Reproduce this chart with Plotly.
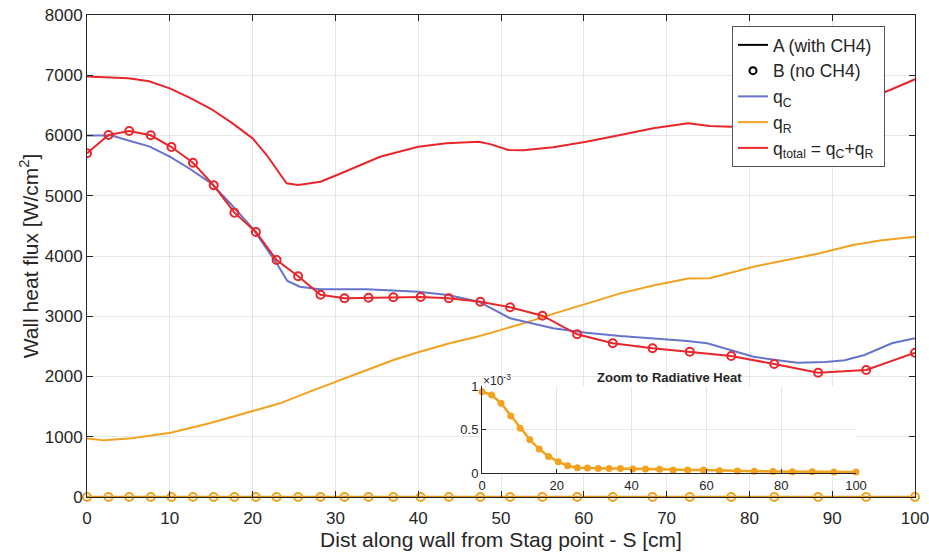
import plotly.graph_objects as go

# ---------------- data ----------------
# Case A (with CH4): continuous lines
x_qC_A = [0, 3, 4.8, 7.5, 10, 12.5, 15, 17.5, 20, 21.5, 22.9, 24.2, 25.7, 28.1, 33.8, 40, 43.6, 47.3,
          51.1, 56.3, 60.3, 64.4, 68.4, 72.5, 74.9, 77.7, 80.5, 83.2, 85.8, 89.2, 91.5, 93.9, 97.2, 100]
qC_A = [6000, 6000, 5925, 5820, 5648, 5440, 5206, 4843, 4460, 4155, 3879, 3585, 3490, 3447, 3447, 3408, 3353, 3242,
        2966, 2800, 2727, 2672, 2634, 2589, 2551, 2440, 2329, 2274, 2229, 2240, 2270, 2357, 2551, 2634]

x_qR_A = [0, 2.1, 5.4, 10.1, 14.8, 19.7, 23.3, 26.9, 30.2, 33.8, 37.0, 40.2, 43.8, 47.1, 49.7, 52.9, 56.3,
          60.3, 64.4, 68.4, 72.6, 75.2, 80.5, 88.5, 92.5, 96, 100]
qR_A = [970, 940, 974, 1068, 1223, 1416, 1555, 1748, 1914, 2108, 2274, 2412, 2551, 2661, 2761, 2890, 3040,
        3210, 3380, 3510, 3625, 3630, 3822, 4045, 4183, 4260, 4320]

x_qT_A = [0, 2.5, 5, 7.5, 10, 12.5, 15, 17.5, 20, 21.7, 24.1, 25.5, 28.2, 30.2, 35.4, 40, 43.4, 47.3, 48.7,
          50.9, 52.7, 56.3, 60.3, 64.4, 68.4, 72.6, 75.2, 77.7, 80, 85, 90, 95, 97.2, 100]
qT_A = [6980, 6960, 6950, 6900, 6783, 6620, 6440, 6210, 5953, 5676, 5206, 5178, 5233, 5344, 5648, 5814, 5870,
        5898, 5857, 5759, 5754, 5804, 5898, 6008, 6119, 6202, 6158, 6146, 6170, 6230, 6380, 6640, 6767, 6933]

# Case B (no CH4): marked points
x_B = [0, 2.6, 5.1, 7.7, 10.2, 12.8, 15.3, 17.8, 20.4, 22.9, 25.5, 28.2, 31.1, 34.0, 37.0, 40.3, 43.7, 47.5,
       51.1, 55.0, 59.2, 63.5, 68.3, 72.8, 77.8, 83.0, 88.3, 94.1, 100]
qT_B = [5705, 6008, 6075, 6003, 5809, 5548, 5173, 4719, 4398, 3934, 3663, 3358, 3298, 3308, 3315, 3320, 3298,
        3241, 3149, 3009, 2700, 2551, 2468, 2412, 2340, 2207, 2063, 2108, 2395]
qR_B = [0] * 29
# radiative heat of case B, in units of 1e-3 W/cm^2 (inset)
qR_B_e3 = [0.935, 0.897, 0.802, 0.656, 0.515, 0.382, 0.275, 0.191, 0.130, 0.084, 0.061, 0.057, 0.053, 0.053,
           0.053, 0.046, 0.046, 0.042, 0.034, 0.034, 0.034, 0.027, 0.023, 0.020, 0.018, 0.015, 0.015, 0.012, 0.012]

x_ticks = [0, 10, 20, 30, 40, 50, 60, 70, 80, 90, 100]
y_ticks = [0, 1000, 2000, 3000, 4000, 5000, 6000, 7000, 8000]
inset_x_ticks = [0, 20, 40, 60, 80, 100]
inset_y_ticks = [0, 0.5, 1]

# ---------------- styles ----------------
BLUE = "#6674CC"
ORANGE = "#F2A21E"
RED = "#E8262C"
FONT = "Liberation Sans"
INK = "#262626"

fig = go.Figure()

fig.add_trace(go.Scatter(x=x_qR_A, y=qR_A, mode="lines", line=dict(color=ORANGE, width=2), showlegend=False))
fig.add_trace(go.Scatter(x=x_qC_A, y=qC_A, mode="lines", line=dict(color=BLUE, width=2), showlegend=False))
fig.add_trace(go.Scatter(x=x_qT_A, y=qT_A, mode="lines", line=dict(color=RED, width=2), showlegend=False))
fig.add_trace(go.Scatter(x=x_B, y=qT_B, mode="lines+markers", line=dict(color=RED, width=2),
                         marker=dict(symbol="circle-open", size=8, color=RED, line=dict(width=2)),
                         showlegend=False))
fig.add_trace(go.Scatter(x=x_B, y=qR_B, mode="lines+markers", line=dict(color="#D8921F", width=2.5),
                         marker=dict(symbol="circle-open", size=8, color=ORANGE, line=dict(width=2)),
                         showlegend=False, cliponaxis=False))

# legend entries
fig.add_trace(go.Scatter(x=[None], y=[None], mode="lines", line=dict(color="black", width=2),
                         name="A (with CH4)"))
fig.add_trace(go.Scatter(x=[None], y=[None], mode="markers",
                         marker=dict(symbol="circle-open", size=7, color="black", line=dict(width=2)),
                         name="B (no CH4)"))
fig.add_trace(go.Scatter(x=[None], y=[None], mode="lines", line=dict(color=BLUE, width=2),
                         name="q<sub>C</sub>"))
fig.add_trace(go.Scatter(x=[None], y=[None], mode="lines", line=dict(color=ORANGE, width=2),
                         name="q<sub>R</sub>"))
fig.add_trace(go.Scatter(x=[None], y=[None], mode="lines", line=dict(color=RED, width=2),
                         name="q<sub>total</sub> = q<sub>C</sub>+q<sub>R</sub> "))

# inset
fig.add_trace(go.Scatter(x=x_B, y=qR_B_e3, mode="lines+markers", xaxis="x2", yaxis="y2",
                         line=dict(color=ORANGE, width=2.5),
                         marker=dict(symbol="circle", size=7, color=ORANGE),
                         showlegend=False, cliponaxis=False))

L, R, T, B = 87, 14, 15, 57
W, H = 929, 554
pw, ph = W - L - R, H - T - B

def px_x(p):
    return (p - L) / pw

def px_y(p):
    return (H - B - p) / ph

fig.update_layout(
    width=W, height=H,
    margin=dict(l=L, r=R, t=T, b=B),
    paper_bgcolor="white", plot_bgcolor="white",
    font=dict(family=FONT, size=17, color=INK),
    xaxis=dict(range=[0, 100], tickvals=x_ticks, ticktext=[str(v) for v in x_ticks],
               ticks="inside", ticklen=6, tickcolor=INK,
               showline=True, linecolor=INK, linewidth=1, mirror="ticks",
               showgrid=True, gridcolor="#E6E6E6", gridwidth=1, zeroline=False,
               tickfont=dict(size=17, color=INK), ticklabelstandoff=6, ticklabeloverflow="allow",
               title=dict(text="Dist along wall from Stag point - S [cm]", font=dict(size=21, color=INK),
                          standoff=0),
               automargin=False),
    yaxis=dict(range=[0, 8000], tickvals=y_ticks, ticks="inside", ticklen=6, tickcolor=INK,
               showline=True, linecolor=INK, linewidth=1, mirror="ticks",
               showgrid=True, gridcolor="#E6E6E6", gridwidth=1, zeroline=False,
               tickfont=dict(size=17, color=INK),
               title=dict(text="Wall heat flux [W/cm<sup>2</sup>]", font=dict(size=21, color=INK),
                          standoff=0),
               automargin=False),
    xaxis2=dict(domain=[px_x(482), px_x(856)], anchor="y2", range=[0, 100], tickvals=inset_x_ticks,
                ticks="inside", ticklen=4, tickcolor=INK,
                showline=True, linecolor=INK, linewidth=1, mirror=False,
                showgrid=True, gridcolor="#E6E6E6", zeroline=False,
                tickfont=dict(size=13, color=INK), automargin=False),
    yaxis2=dict(domain=[px_y(473), px_y(386)], anchor="x2", range=[0, 1], tickvals=inset_y_ticks,
                ticktext=["0", "0.5", "1"],
                ticks="inside", ticklen=4, tickcolor=INK,
                showline=True, linecolor=INK, linewidth=1, mirror=False,
                showgrid=True, gridcolor="#E6E6E6", zeroline=False,
                tickfont=dict(size=13, color=INK), automargin=False),
    legend=dict(x=px_x(732), y=px_y(26), xanchor="left", yanchor="top",
                bgcolor="white", bordercolor="#555555", borderwidth=1,
                font=dict(size=17.5, color=INK), tracegroupgap=0, itemwidth=30),
    annotations=[
        dict(text="<b>Zoom to Radiative Heat</b>", x=(px_x(482) + px_x(856)) / 2, y=px_y(377),
             xref="paper", yref="paper", showarrow=False, font=dict(size=13, color=INK),
             xanchor="center", yanchor="middle"),
        dict(text="×10<sup>-3</sup>", x=px_x(481), y=px_y(380), xref="paper", yref="paper",
             showarrow=False, font=dict(size=12, color=INK), xanchor="left", yanchor="middle"),
    ],
)

fig.write_html("out.html")
